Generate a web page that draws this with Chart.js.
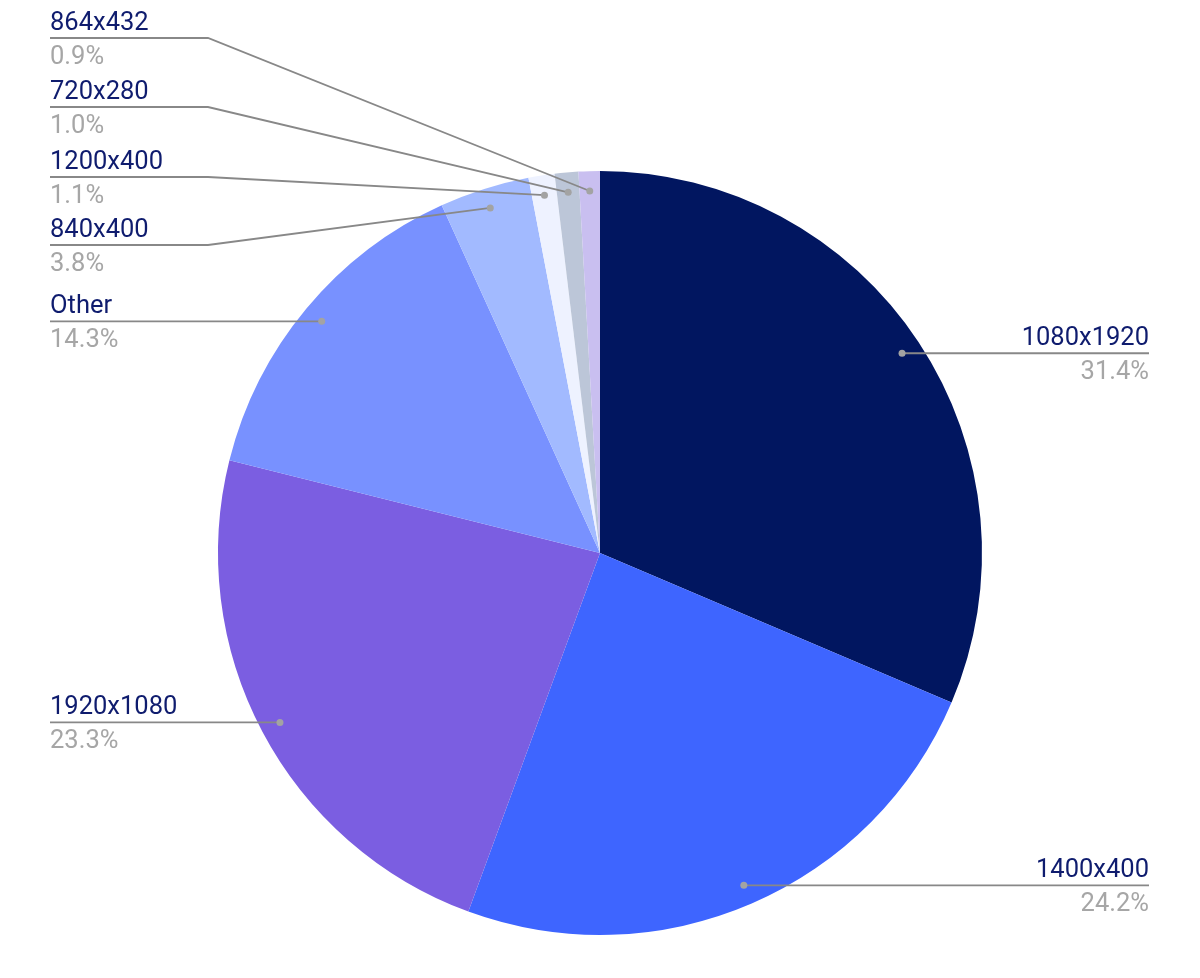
<!DOCTYPE html>
<html>
<head>
<meta charset="utf-8">
<script src="https://cdn.jsdelivr.net/npm/chart.js@4"></script>
<style>
  html, body { margin:0; padding:0; background:#fff; }
  #wrap { width:1200px; height:978px; position:relative; }
</style>
</head>
<body>
<div id="wrap"><canvas id="pie"></canvas></div>
<script>
// ----- Data -----
const labels = ["1080x1920", "1400x400", "1920x1080", "Other", "840x400", "1200x400", "720x280", "864x432"];
const shares = [31.4, 24.2, 23.3, 14.3, 3.8, 1.1, 1.0, 0.9];
const colors = ["#011660", "#3e65ff", "#7b5ee1", "#7891ff", "#a2baff", "#eef2ff", "#bcc6d8", "#c9bff0"];

// label placement: side, line y (null = follow the dot), elbow x
const labelSpots = [
  { side:"right", lineY:null },
  { side:"right", lineY:null },
  { side:"left",  lineY:null },
  { side:"left",  lineY:null },
  { side:"left",  lineY:245, elbow:208 },
  { side:"left",  lineY:177, elbow:208 },
  { side:"left",  lineY:107, elbow:208 },
  { side:"left",  lineY:38,  elbow:208 }
];

// ----- Leader line labels -----
const leaderLabels = {
  id: "leaderLabels",
  afterDatasetsDraw(chart){
    const ctx = chart.ctx;
    const arcs = chart.getDatasetMeta(0).data;
    const leftX = 50, rightX = 1149;
    ctx.save();
    arcs.forEach((arc, i)=>{
      const mid = (arc.startAngle + arc.endAngle) / 2;
      const r = arc.outerRadius * 0.948;
      const dx = arc.x + Math.cos(mid) * r;
      const dy = arc.y + Math.sin(mid) * r;
      const spot = labelSpots[i];
      const ly = spot.lineY === null ? dy : spot.lineY;
      const textX = spot.side === "left" ? leftX : rightX;

      ctx.strokeStyle = "#888888";
      ctx.lineWidth = 1.8;
      ctx.beginPath();
      ctx.moveTo(textX, ly);
      if(spot.lineY !== null){
        ctx.lineTo(spot.elbow, ly);
      }
      ctx.lineTo(dx, dy);
      ctx.stroke();

      ctx.fillStyle = "#a3a3a3";
      ctx.beginPath();
      ctx.arc(dx, dy, 3.5, 0, Math.PI*2);
      ctx.fill();

      ctx.textAlign = spot.side === "left" ? "left" : "right";
      ctx.textBaseline = "alphabetic";
      ctx.font = "25.5px Roboto";
      ctx.fillStyle = "#0f1c6e";
      ctx.fillText(labels[i], textX, ly - 8);
      ctx.fillStyle = "#a6a6a6";
      ctx.fillText(shares[i].toFixed(1) + "%", textX, ly + 26);
    });
    ctx.restore();
  }
};

new Chart(document.getElementById("pie"), {
  type: "pie",
  data: { labels, datasets:[{ data: shares, backgroundColor: colors, borderWidth:0 }] },
  options: {
    responsive:true, maintainAspectRatio:false, animation:false,
    layout:{ padding:{ top:171, bottom:43, left:0, right:0 } },
    plugins:{ legend:{display:false}, tooltip:{enabled:false} }
  },
  plugins:[leaderLabels]
});
</script>
</body>
</html>
